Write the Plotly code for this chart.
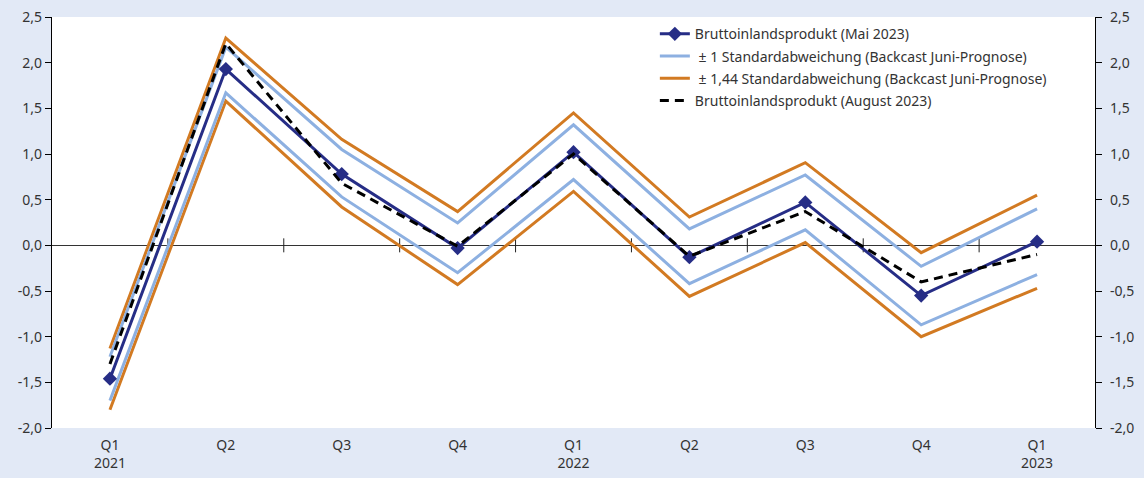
import plotly.graph_objects as go

categories = ["Q1<br>2021", "Q2", "Q3", "Q4", "Q1<br>2022", "Q2", "Q3", "Q4", "Q1<br>2023"]
mai_2023 = [-1.46, 1.93, 0.78, -0.03, 1.02, -0.13, 0.47, -0.55, 0.04]
std1_upper = [-1.22, 2.17, 1.05, 0.245, 1.32, 0.18, 0.77, -0.23, 0.40]
std1_lower = [-1.70, 1.67, 0.53, -0.30, 0.72, -0.42, 0.17, -0.87, -0.32]
std144_upper = [-1.13, 2.27, 1.16, 0.37, 1.45, 0.31, 0.905, -0.08, 0.55]
std144_lower = [-1.80, 1.58, 0.42, -0.43, 0.59, -0.56, 0.03, -1.00, -0.47]
aug_2023 = [-1.30, 2.21, 0.68, -0.01, 1.00, -0.12, 0.37, -0.40, -0.10]
y_tickvals = [-2.0, -1.5, -1.0, -0.5, 0.0, 0.5, 1.0, 1.5, 2.0, 2.5]
y_ticktext = ["-2,0", "-1,5", "-1,0", "-0,5", "0,0", "0,5", "1,0", "1,5", "2,0", "2,5"]

names = {
    "mai": "Bruttoinlandsprodukt (Mai 2023)",
    "s1": " ± 1 Standardabweichung (Backcast Juni-Prognose)",
    "s144": " ± 1,44 Standardabweichung (Backcast Juni-Prognose)",
    "aug": "Bruttoinlandsprodukt (August 2023)",
}

NAVY = "#262D86"
LIGHT = "#8DB0E1"
ORANGE = "#D27A22"
BG = "#E2E9F6"
TXT = "#333333"
FS = 14

xs = list(range(len(categories)))
boundaries = [i + 0.5 for i in range(len(categories) - 1)]

fig = go.Figure()

# boundary tick marks on the zero line
fig.add_trace(go.Scatter(
    x=boundaries, y=[0] * len(boundaries), mode="markers",
    marker=dict(symbol="line-ns", size=10, line=dict(width=1, color="#222")),
    showlegend=False, hoverinfo="skip"))

fig.add_trace(go.Scatter(x=xs, y=std144_upper, mode="lines", name=names["s144"],
                         line=dict(color=ORANGE, width=3), legendgroup="g3", legendrank=3))
fig.add_trace(go.Scatter(x=xs, y=std144_lower, mode="lines", name=names["s144"],
                         line=dict(color=ORANGE, width=3), legendgroup="g3", showlegend=False))
fig.add_trace(go.Scatter(x=xs, y=std1_upper, mode="lines", name=names["s1"],
                         line=dict(color=LIGHT, width=3), legendgroup="g2", legendrank=2))
fig.add_trace(go.Scatter(x=xs, y=std1_lower, mode="lines", name=names["s1"],
                         line=dict(color=LIGHT, width=3), legendgroup="g2", showlegend=False))
fig.add_trace(go.Scatter(x=xs, y=mai_2023, mode="lines+markers", name=names["mai"],
                         line=dict(color=NAVY, width=3), legendgroup="g1",
                         marker=dict(symbol="diamond", size=11, color=NAVY), legendrank=1))
fig.add_trace(go.Scatter(x=xs, y=aug_2023, mode="lines", name=names["aug"], legendgroup="g4",
                         line=dict(color="black", width=3, dash="9px,6px"), legendrank=4))
# dummy trace for right axis
fig.add_trace(go.Scatter(x=[None], y=[None], yaxis="y2", showlegend=False, hoverinfo="skip"))

yax = dict(range=[-2.0, 2.5], tickvals=y_tickvals, ticktext=y_ticktext,
           showgrid=False, showline=True, linecolor="black", linewidth=1.3,
           ticks="outside", ticklen=6, tickcolor="black", tickwidth=1.3,
           automargin=False, tickfont=dict(size=FS, color=TXT))

fig.update_layout(
    width=1144, height=478,
    margin=dict(l=52, r=49, t=17, b=50),
    paper_bgcolor=BG, plot_bgcolor="white",
    font=dict(family="Noto Sans", size=FS, color=TXT),
    xaxis=dict(range=[-0.5, len(categories) - 0.5], tickvals=xs, ticktext=categories,
               showgrid=False, showline=False, zeroline=False, ticks="",
               automargin=False, ticklabelstandoff=7, tickfont=dict(size=FS, color=TXT)),
    yaxis=dict(**yax, zeroline=True, zerolinecolor="#333", zerolinewidth=1.2),
    yaxis2=dict(**yax, overlaying="y", side="right", zeroline=False, ticklabelstandoff=5),
    legend=dict(x=0.578, y=0.997, xanchor="left", yanchor="top",
                bgcolor="rgba(0,0,0,0)", font=dict(size=FS, color=TXT),
                traceorder="grouped", tracegroupgap=1),
    showlegend=True,
)

fig.write_html("out.html", config={"displayModeBar": False},
               post_script="document.body.style.margin='0';")
